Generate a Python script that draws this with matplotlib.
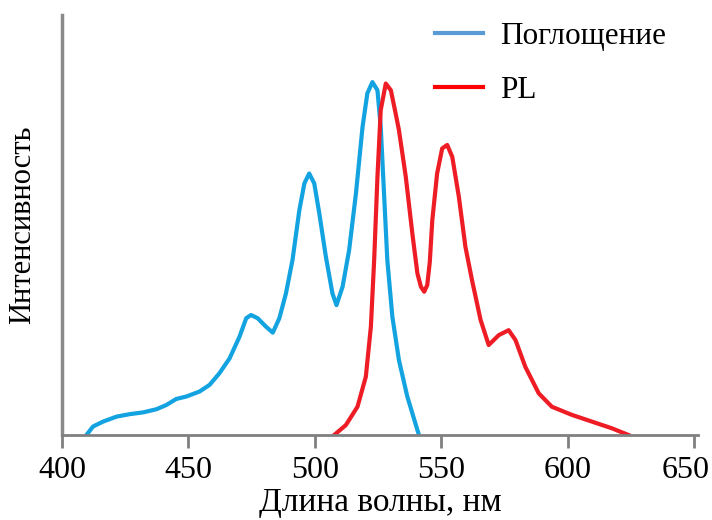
import matplotlib
matplotlib.use('Agg')
import matplotlib.pyplot as plt
from matplotlib.lines import Line2D
from matplotlib.transforms import ScaledTranslation

plt.rcParams['font.family'] = ['Liberation Serif', 'DejaVu Serif']

# absorption (blue)
abs_nm = [409.7, 412.3, 416.3, 421.6, 426.8, 432.1, 437.4, 441.3, 445.2, 449.2,
          454.4, 458.4, 462.3, 466.3, 470.2, 472.9, 474.8, 477.4, 480.7, 483.4,
          486.0, 488.6, 491.2, 493.9, 495.9, 497.8, 499.8, 501.8, 504.4, 507.0,
          508.6, 511.0, 513.6, 516.3, 518.9, 520.8, 522.8, 524.8, 526.1, 527.4,
          528.7, 530.7, 533.3, 536.6, 541.2]
abs_val = [0.0, 0.024, 0.038, 0.052, 0.059, 0.064, 0.073, 0.085, 0.102, 0.109,
           0.123, 0.142, 0.175, 0.217, 0.278, 0.331, 0.340, 0.331, 0.307, 0.290,
           0.331, 0.401, 0.496, 0.637, 0.713, 0.741, 0.713, 0.628, 0.505, 0.401,
           0.368, 0.420, 0.524, 0.685, 0.873, 0.968, 1.0, 0.977, 0.873, 0.685,
           0.496, 0.335, 0.212, 0.109, 0.0]

# photoluminescence (red)
pl_nm = [507.7, 512.3, 516.9, 520.2, 522.2, 523.5, 524.8, 526.1, 528.1, 530.1,
         532.0, 533.3, 536.0, 538.6, 540.6, 542.0, 543.3, 544.5, 545.5, 546.5,
         548.4, 550.4, 552.4, 554.4, 557.0, 559.6, 562.2, 565.6, 568.8, 572.8,
         576.7, 579.4, 583.3, 588.6, 593.8, 601.7, 609.6, 617.5, 624.1]
pl_val = [0.0, 0.028, 0.080, 0.165, 0.307, 0.496, 0.732, 0.921, 0.996, 0.977,
          0.911, 0.864, 0.732, 0.571, 0.458, 0.420, 0.406, 0.425, 0.490, 0.609,
          0.741, 0.812, 0.822, 0.788, 0.675, 0.533, 0.439, 0.326, 0.255, 0.283,
          0.297, 0.269, 0.193, 0.118, 0.080, 0.057, 0.038, 0.019, 0.0]

xticks = [400, 450, 500, 550, 600, 650]

fig = plt.figure(figsize=(7.12, 5.2), dpi=100)
ax = fig.add_axes([0.087, 0.1635, 0.893, 0.8075])

ax.plot(abs_nm, abs_val, color='#12A3E0', linewidth=3, solid_joinstyle='round')
ax.plot(pl_nm, pl_val, color='#EE1C25', linewidth=3, solid_joinstyle='round')

ax.set_xlim(400, 651.5)
ax.set_ylim(0, 1.19)
ax.set_xticks(xticks)
ax.set_yticks([])
ax.tick_params(axis='x', direction='out', length=9, width=2, color='#808080',
               labelsize=23, pad=6)
for s in ['top', 'right']:
    ax.spines[s].set_visible(False)
ax.spines['left'].set_color('#8a8a8a')
ax.spines['left'].set_linewidth(2.5)
ax.spines['bottom'].set_color('#808080')
ax.spines['bottom'].set_linewidth(2)

# last tick label sits at the right edge, nudge it in
last = ax.get_xticklabels()[-1]
last.set_transform(last.get_transform() + ScaledTranslation(-8 / 100, 0, fig.dpi_scale_trans))

ax.set_xlabel('Длина волны, нм', fontsize=24, labelpad=2)
ax.set_ylabel('Интенсивность', fontsize=22, labelpad=18)

handles = [Line2D([], [], color='#5B9BD5', linewidth=3),
           Line2D([], [], color='#FF0000', linewidth=3)]
ax.legend(handles, ['Поглощение', 'PL'], frameon=False, fontsize=22.5,
          loc='upper left', bbox_to_anchor=(0.542, 1.05), handlelength=1.55,
          handletextpad=0.55, labelspacing=0.79)

fig.savefig('out.png', dpi=100)
